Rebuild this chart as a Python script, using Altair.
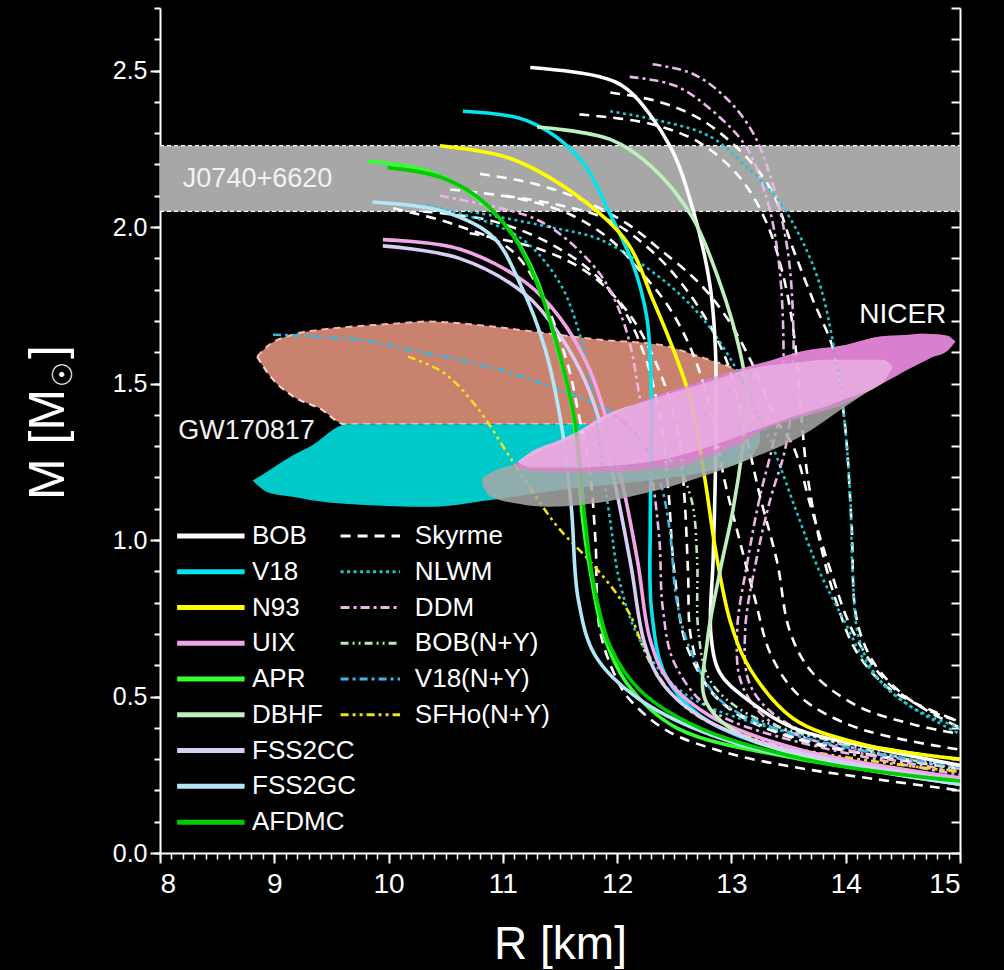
import altair as alt
import pandas as pd

# ---------------- axis ranges and ticks ----------------
R_DOMAIN = [8, 15]
M_DOMAIN = [0, 2.7]
X_TICKS = [8, 9, 10, 11, 12, 13, 14, 15]
X_MINOR = [round(8 + 0.1 * i, 1) for i in range(71)]
Y_TICKS = [0.0, 0.5, 1.0, 1.5, 2.0, 2.5]
Y_MINOR = [round(0.1 * i, 1) for i in range(28)]

# ---------------- nucleonic EoS (solid) ----------------
BOB_R = [11.24, 11.85, 12.09, 12.46, 12.66, 12.81, 12.86, 12.86, 12.84, 12.82, 12.90, 13.14, 13.54, 14.12, 15.0]
BOB_M = [2.51, 2.48, 2.44, 2.26, 2.06, 1.82, 1.61, 1.23, 0.94, 0.70, 0.575, 0.49, 0.40, 0.345, 0.28]

V18_R = [10.65, 11.21, 11.67, 11.94, 12.14, 12.26, 12.30, 12.29, 12.30, 12.42, 12.72, 13.42, 15.0]
V18_M = [2.37, 2.34, 2.22, 2.04, 1.88, 1.71, 1.45, 1.06, 0.78, 0.57, 0.44, 0.33, 0.22]

N93_R = [10.45, 11.06, 11.65, 12.09, 12.31, 12.49, 12.64, 12.77, 12.86, 12.99, 13.16, 13.54, 14.12, 15.0]
N93_M = [2.26, 2.22, 2.10, 1.95, 1.77, 1.61, 1.45, 1.19, 0.97, 0.74, 0.59, 0.43, 0.35, 0.30]

UIX_R = [9.95, 10.62, 11.21, 11.50, 11.74, 11.87, 12.04, 12.18, 12.29, 12.45, 12.85, 13.60, 15.0]
UIX_M = [1.96, 1.93, 1.82, 1.71, 1.56, 1.43, 1.19, 0.93, 0.68, 0.55, 0.43, 0.33, 0.24]

APR_R = [9.82, 10.34, 10.71, 11.06, 11.30, 11.47, 11.61, 11.70, 11.76, 11.88, 12.09, 12.52, 13.60, 15.0]
APR_M = [2.21, 2.18, 2.11, 1.99, 1.83, 1.62, 1.41, 1.06, 0.91, 0.70, 0.54, 0.40, 0.30, 0.23]

DBHF_R = [11.30, 11.94, 12.31, 12.66, 12.90, 13.07, 13.14, 13.10, 13.01, 12.90, 12.79, 12.77, 13.07, 14.04, 15.0]
DBHF_M = [2.32, 2.28, 2.19, 2.03, 1.82, 1.61, 1.45, 1.30, 1.09, 0.90, 0.68, 0.49, 0.38, 0.28, 0.22]

FSS2CC_R = [9.95, 10.62, 11.18, 11.45, 11.68, 11.82, 11.98, 12.12, 12.24, 12.40, 12.80, 13.60, 15.0]
FSS2CC_M = [1.94, 1.90, 1.79, 1.68, 1.54, 1.41, 1.18, 0.92, 0.67, 0.54, 0.42, 0.32, 0.23]

FSS2GC_R = [9.86, 10.48, 10.91, 11.15, 11.37, 11.52, 11.60, 11.66, 11.81, 12.20, 12.96, 14.12, 15.0]
FSS2GC_M = [2.08, 2.05, 1.97, 1.82, 1.61, 1.35, 1.10, 0.81, 0.63, 0.49, 0.36, 0.27, 0.22]

AFDMC_R = [9.99, 10.45, 10.80, 11.11, 11.32, 11.50, 11.63, 11.72, 11.79, 11.94, 12.20, 12.72, 13.77, 15.0]
AFDMC_M = [2.19, 2.16, 2.09, 1.96, 1.80, 1.59, 1.38, 1.06, 0.87, 0.66, 0.52, 0.40, 0.29, 0.23]

# ---------------- phenomenological / hyperonic EoS (broken lines) ----------------
SKY1_R = [11.94, 12.37, 12.75, 13.14, 13.36, 13.54, 13.71, 13.89, 13.99, 14.05, 14.10, 14.26, 14.56, 15.0]
SKY1_M = [2.43, 2.40, 2.34, 2.22, 2.11, 1.93, 1.77, 1.61, 1.38, 1.06, 0.74, 0.60, 0.49, 0.40]
SKY2_R = [10.80, 11.26, 11.67, 12.09, 12.37, 12.72, 12.96, 13.16, 13.40, 13.54, 13.70, 13.87, 14.06, 14.35, 14.70, 15.0]
SKY2_M = [2.17, 2.14, 2.09, 2.01, 1.93, 1.82, 1.71, 1.58, 1.38, 1.30, 1.10, 0.90, 0.71, 0.55, 0.46, 0.42]
SKY3_R = [10.54, 11.15, 11.59, 11.94, 12.20, 12.46, 12.68, 12.84, 12.94, 13.05, 13.20, 13.35, 13.60, 14.10, 15.0]
SKY3_M = [2.12, 2.09, 2.04, 1.96, 1.86, 1.74, 1.58, 1.38, 1.19, 1.03, 0.82, 0.63, 0.50, 0.40, 0.33]
SKY4_R = [10.04, 10.56, 11.06, 11.32, 11.56, 11.67, 11.76, 11.81, 11.85, 12.00, 12.11, 12.44, 12.96, 13.54, 14.12, 15.0]
SKY4_M = [2.06, 2.01, 1.93, 1.80, 1.57, 1.39, 1.22, 1.00, 0.71, 0.553, 0.49, 0.39, 0.32, 0.275, 0.243, 0.20]
SKY5_R = [11.02, 11.50, 11.94, 12.37, 12.72, 12.95, 13.10, 13.25, 13.40, 13.51, 13.70, 14.10, 14.60, 15.0]
SKY5_M = [2.10, 2.07, 2.02, 1.90, 1.74, 1.58, 1.38, 1.14, 0.93, 0.71, 0.58, 0.47, 0.41, 0.38]
SKY6_R = [10.71, 11.32, 11.76, 12.11, 12.37, 12.53, 12.59, 12.62, 12.65, 12.81, 13.25, 14.12, 15.0]
SKY6_M = [1.98, 1.93, 1.85, 1.72, 1.54, 1.35, 1.13, 0.90, 0.68, 0.52, 0.41, 0.32, 0.27]
SKY7_R = [10.30, 10.90, 11.40, 11.80, 12.05, 12.25, 12.38, 12.45, 12.50, 12.62, 12.95, 13.70, 15.0]
SKY7_M = [2.05, 2.02, 1.95, 1.85, 1.74, 1.58, 1.38, 1.15, 0.90, 0.65, 0.47, 0.35, 0.28]
SKY8_R = [11.67, 12.29, 12.72, 13.07, 13.30, 13.45, 13.55, 13.60, 13.66, 13.77, 13.92, 14.10, 14.40, 15.0]
SKY8_M = [2.36, 2.33, 2.27, 2.16, 2.02, 1.85, 1.65, 1.45, 1.22, 1.00, 0.80, 0.64, 0.52, 0.42]

NLWM1_R = [11.94, 12.37, 12.81, 13.14, 13.40, 13.60, 13.77, 13.89, 13.98, 14.04, 14.06, 14.12, 14.30, 14.56, 15.0]
NLWM1_M = [2.37, 2.34, 2.29, 2.19, 2.09, 1.97, 1.82, 1.63, 1.41, 1.14, 0.90, 0.68, 0.55, 0.47, 0.38]
NLWM2_R = [10.71, 11.41, 11.85, 12.37, 12.72, 12.99, 13.21, 13.36, 13.56, 13.77, 13.99, 14.21, 14.56, 15.0]
NLWM2_M = [2.05, 2.00, 1.96, 1.84, 1.72, 1.58, 1.42, 1.30, 1.10, 0.90, 0.74, 0.59, 0.47, 0.40]
NLWM3_R = [10.34, 10.91, 11.21, 11.50, 11.67, 11.78, 11.85, 11.94, 12.02, 12.20, 12.55, 13.25, 15.0]
NLWM3_M = [2.07, 2.01, 1.95, 1.82, 1.66, 1.48, 1.29, 1.06, 0.87, 0.68, 0.52, 0.41, 0.30]

DDM1_R = [12.31, 12.66, 12.96, 13.19, 13.36, 13.49, 13.54, 13.53, 13.47, 13.34, 13.22, 13.12, 13.16, 13.42, 14.12, 15.0]
DDM1_M = [2.52, 2.49, 2.41, 2.30, 2.14, 1.93, 1.70, 1.45, 1.29, 1.13, 0.94, 0.71, 0.54, 0.43, 0.33, 0.27]
DDM2_R = [12.11, 12.52, 12.90, 13.14, 13.31, 13.40, 13.45, 13.44, 13.36, 13.25, 13.14, 13.05, 13.09, 13.34, 14.12, 15.0]
DDM2_M = [2.48, 2.45, 2.35, 2.25, 2.09, 1.93, 1.71, 1.45, 1.30, 1.14, 0.93, 0.71, 0.54, 0.42, 0.32, 0.26]
DDM3_R = [10.45, 11.26, 11.56, 11.85, 12.00, 12.11, 12.20, 12.30, 12.37, 12.40, 12.51, 12.90, 15.0]
DDM3_M = [2.10, 2.03, 1.96, 1.85, 1.75, 1.63, 1.45, 1.22, 1.00, 0.78, 0.60, 0.44, 0.25]

BOBNY_R = [11.85, 12.20, 12.51, 12.65, 12.70, 12.71, 12.81, 13.16, 14.12, 15.0]
BOBNY_M = [1.352, 1.304, 1.240, 1.129, 0.937, 0.713, 0.553, 0.441, 0.336, 0.265]

V18NY_R = [8.99, 9.75, 10.19, 10.62, 11.06, 11.50, 11.91, 12.20, 12.37, 12.46, 12.52, 12.64, 12.90, 13.42, 14.12, 15.0]
V18NY_M = [1.656, 1.640, 1.608, 1.576, 1.535, 1.480, 1.416, 1.320, 1.192, 1.033, 0.809, 0.649, 0.489, 0.393, 0.329, 0.275]

SFHONY_R = [10.17, 10.48, 10.77, 11.06, 11.35, 11.50, 11.79, 12.09, 12.31, 12.66, 13.42, 15.0]
SFHONY_M = [1.586, 1.535, 1.426, 1.266, 1.106, 1.033, 0.921, 0.777, 0.595, 0.448, 0.345, 0.259]

# ---------------- observational constraints ----------------
J0740_M = [2.05, 2.26]

GW_HI_R = [8.85, 8.95, 9.16, 9.40, 9.62, 10.00, 10.34, 10.91, 11.35, 11.85, 12.37, 12.72, 13.07, 13.30, 13.36]
GW_HI_TOP = [1.586, 1.622, 1.656, 1.672, 1.680, 1.690, 1.698, 1.682, 1.662, 1.640, 1.624, 1.586, 1.538, 1.480, 1.420]
GW_HI_BOT = [1.586, 1.530, 1.460, 1.420, 1.370, 1.370, 1.370, 1.370, 1.370, 1.370, 1.370, 1.370, 1.370, 1.370, 1.370]

GW_LO_R = [8.81, 8.96, 9.16, 9.31, 9.64, 9.75, 10.34, 10.91, 11.50, 12.26, 12.84, 13.16, 13.25]
GW_LO_TOP = [1.19, 1.224, 1.27, 1.298, 1.37, 1.37, 1.37, 1.37, 1.37, 1.37, 1.37, 1.37, 1.37]
GW_LO_BOT = [1.19, 1.15, 1.138, 1.128, 1.115, 1.113, 1.106, 1.129, 1.16, 1.19, 1.224, 1.263, 1.31]

NICER_GRAY_R = [10.82, 10.89, 11.15, 11.39, 11.85, 12.26, 12.72, 13.14, 13.60, 14.01, 14.30]
NICER_GRAY_TOP = [1.199, 1.215, 1.24, 1.235, 1.235, 1.24, 1.27, 1.335, 1.405, 1.45, 1.505]
NICER_GRAY_BOT = [1.175, 1.14, 1.115, 1.106, 1.12, 1.151, 1.20, 1.256, 1.33, 1.43, 1.50]

NICER_OUT_R = [11.09, 11.24, 11.32, 11.67, 12.02, 12.37, 12.55, 12.72, 13.14, 13.28, 13.60, 14.01, 14.30, 14.59, 14.65, 14.74, 14.89, 14.96]
NICER_OUT_TOP = [1.24, 1.265, 1.282, 1.336, 1.41, 1.464, 1.486, 1.506, 1.554, 1.567, 1.602, 1.624, 1.650, 1.657, 1.659, 1.658, 1.653, 1.634]
NICER_OUT_BOT = [1.24, 1.221, 1.219, 1.215, 1.218, 1.228, 1.234, 1.256, 1.32, 1.352, 1.391, 1.439, 1.496, 1.554, 1.565, 1.582, 1.605, 1.634]

NICER_IN_R = [11.13, 11.24, 11.50, 11.67, 11.85, 12.29, 12.72, 13.25, 13.54, 13.84, 13.98, 14.27, 14.33, 14.41]
NICER_IN_TOP = [1.25, 1.28, 1.32, 1.35, 1.391, 1.448, 1.496, 1.554, 1.566, 1.576, 1.576, 1.576, 1.576, 1.554]
NICER_IN_BOT = [1.25, 1.231, 1.231, 1.231, 1.235, 1.25, 1.288, 1.357, 1.394, 1.428, 1.448, 1.490, 1.505, 1.554]

# ---------------- families: names, colours, dash patterns ----------------
SOLID_FAMILIES = ["BOB", "V18", "N93", "UIX", "APR", "DBHF", "FSS2CC", "FSS2GC", "AFDMC"]
BROKEN_FAMILIES = ["Skyrme", "NLWM", "DDM", "BOB(N+Y)", "V18(N+Y)", "SFHo(N+Y)"]
FAMILIES = SOLID_FAMILIES + BROKEN_FAMILIES
FAMILY_COLORS = ["#ffffff", "#00e6ef", "#ffff00", "#f2a6ea", "#33ff33", "#bdf0bd",
                 "#d9cdf5", "#b4e6f8", "#00cc00",
                 "#ffffff", "#1cc8d2", "#ebb6e8", "#bfe6bf", "#3ab8e6", "#ece21e"]
FAMILY_DASHES = [[1, 0]] * 9 + [[10, 7], [3, 3.5], [9, 4, 3, 4], [8, 4, 2, 4, 2, 4],
                                [8, 4, 3, 4], [8, 4, 3, 4, 3, 4]]

solid_curves = [
    ("BOB", BOB_R, BOB_M), ("V18", V18_R, V18_M), ("N93", N93_R, N93_M),
    ("UIX", UIX_R, UIX_M), ("APR", APR_R, APR_M), ("DBHF", DBHF_R, DBHF_M),
    ("FSS2CC", FSS2CC_R, FSS2CC_M), ("FSS2GC", FSS2GC_R, FSS2GC_M),
    ("AFDMC", AFDMC_R, AFDMC_M),
]
broken_curves = [
    ("Skyrme", SKY1_R, SKY1_M), ("Skyrme", SKY2_R, SKY2_M), ("Skyrme", SKY3_R, SKY3_M),
    ("Skyrme", SKY4_R, SKY4_M), ("Skyrme", SKY5_R, SKY5_M), ("Skyrme", SKY6_R, SKY6_M),
    ("Skyrme", SKY7_R, SKY7_M), ("Skyrme", SKY8_R, SKY8_M),
    ("NLWM", NLWM1_R, NLWM1_M), ("NLWM", NLWM2_R, NLWM2_M), ("NLWM", NLWM3_R, NLWM3_M),
    ("DDM", DDM1_R, DDM1_M), ("DDM", DDM2_R, DDM2_M), ("DDM", DDM3_R, DDM3_M),
    ("BOB(N+Y)", BOBNY_R, BOBNY_M), ("V18(N+Y)", V18NY_R, V18NY_M),
    ("SFHo(N+Y)", SFHONY_R, SFHONY_M),
]


def curve_table(curves):
    rows = []
    for cid, (fam, rs, ms) in enumerate(curves):
        for k, (r, m) in enumerate(zip(rs, ms)):
            rows.append({"family": fam, "curve": f"{fam}-{cid}", "R": r, "M": m, "k": k})
    return pd.DataFrame(rows)


solid_df = curve_table(solid_curves)
broken_df = curve_table(broken_curves)

FONT = "Liberation Sans"
x_scale = alt.Scale(domain=R_DOMAIN, nice=False, zero=False)
y_scale = alt.Scale(domain=M_DOMAIN, nice=False, zero=False)
color_scale = alt.Scale(domain=FAMILIES, range=FAMILY_COLORS)
dash_scale = alt.Scale(domain=FAMILIES, range=FAMILY_DASHES)


def X(field):
    return alt.X(field, type="quantitative", scale=x_scale, axis=None)


def Y(field):
    return alt.Y(field, type="quantitative", scale=y_scale, axis=None)


def region(df, color, opacity=1.0):
    return alt.Chart(df).mark_area(color=color, opacity=opacity, interpolate="monotone").encode(
        x=X("R"), y=Y("top"), y2="bot")


# J0740+6620 mass band
band_df = pd.DataFrame({"r0": [R_DOMAIN[0]], "r1": [R_DOMAIN[1]], "m0": [J0740_M[0]], "m1": [J0740_M[1]]})
band = alt.Chart(band_df).mark_rect(color="#a7a7a7").encode(
    x=X("r0"), x2="r1", y=Y("m0"), y2="m1")
band_edges_df = pd.DataFrame({"r0": [R_DOMAIN[0]] * 2, "r1": [R_DOMAIN[1]] * 2, "m": J0740_M})
band_edges = alt.Chart(band_edges_df).mark_rule(
    color="#ffffff", strokeWidth=1.3, strokeDash=[4, 3]).encode(x=X("r0"), x2="r1", y=Y("m"))

# GW170817 regions
gw_hi_df = pd.DataFrame({"R": GW_HI_R, "top": GW_HI_TOP, "bot": GW_HI_BOT})
gw_lo_df = pd.DataFrame({"R": GW_LO_R, "top": GW_LO_TOP, "bot": GW_LO_BOT})
gw_hi = region(gw_hi_df, "#c8826e")
gw_hi_top = alt.Chart(gw_hi_df).mark_line(
    color="#f6b8a8", strokeWidth=2, strokeDash=[7, 5], interpolate="monotone").encode(x=X("R"), y=Y("top"))
gw_hi_bot = alt.Chart(gw_hi_df).mark_line(
    color="#f8d2c8", strokeWidth=2, strokeDash=[7, 5], interpolate="monotone").encode(x=X("R"), y=Y("bot"))
gw_lo = region(gw_lo_df, "#00c9c9")

# NICER regions: opaque underlay, then a translucent veil over the curves
ng_df = pd.DataFrame({"R": NICER_GRAY_R, "top": NICER_GRAY_TOP, "bot": NICER_GRAY_BOT})
no_df = pd.DataFrame({"R": NICER_OUT_R, "top": NICER_OUT_TOP, "bot": NICER_OUT_BOT})
ni_df = pd.DataFrame({"R": NICER_IN_R, "top": NICER_IN_TOP, "bot": NICER_IN_BOT})
NICER_OUT_COLOR, NICER_IN_COLOR = "#d97fcd", "#eab2e3"
nicer_out_base = region(no_df, NICER_OUT_COLOR)
nicer_in_base = region(ni_df, NICER_IN_COLOR)
nicer_gray = region(ng_df, "#a8a8a8", 0.85)
nicer_out_veil = region(no_df, NICER_OUT_COLOR, 0.62)
nicer_in_veil = region(ni_df, NICER_IN_COLOR, 0.62)

# mass-radius curves
broken_lines = alt.Chart(broken_df).mark_line(strokeWidth=2.6, interpolate="catmull-rom", clip=True).encode(
    x=X("R"), y=Y("M"),
    color=alt.Color("family:N", scale=color_scale, legend=None),
    strokeDash=alt.StrokeDash("family:N", scale=dash_scale, legend=None),
    detail="curve:N", order="k:Q")
solid_lines = alt.Chart(solid_df).mark_line(strokeWidth=3.6, interpolate="catmull-rom", clip=True).encode(
    x=X("R"), y=Y("M"),
    color=alt.Color("family:N", scale=color_scale, legend=None),
    detail="curve:N", order="k:Q")

# region labels
labels_left = pd.DataFrame({"R": [8.2, 8.16], "M": [2.155, 1.35], "text": ["J0740+6620", "GW170817"]})
labels_right = pd.DataFrame({"R": [14.88], "M": [1.72], "text": ["NICER"]})
label_left = alt.Chart(labels_left).mark_text(
    align="left", baseline="middle", font=FONT, fontSize=27, color="#f2f2f2").encode(
    x=X("R"), y=Y("M"), text="text:N")
label_right = alt.Chart(labels_right).mark_text(
    align="right", baseline="middle", font=FONT, fontSize=28, color="#ffffff").encode(
    x=X("R"), y=Y("M"), text="text:N")

# two-column legend placed inside the plot
LEG_TOP, LEG_STEP = 1.013, 0.1143
leg_rows = []
for i, fam in enumerate(SOLID_FAMILIES):
    leg_rows.append({"family": fam, "x0": 8.15, "x1": 8.74, "tx": 8.805, "y": LEG_TOP - LEG_STEP * i, "solid": True})
for i, fam in enumerate(BROKEN_FAMILIES):
    leg_rows.append({"family": fam, "x0": 9.58, "x1": 10.10, "tx": 10.23, "y": LEG_TOP - LEG_STEP * i, "solid": False})
leg_df = pd.DataFrame(leg_rows)
leg_solid = alt.Chart(leg_df[leg_df.solid]).mark_rule(strokeWidth=5).encode(
    x=X("x0"), x2="x1", y=Y("y"),
    color=alt.Color("family:N", scale=color_scale, legend=None))
leg_broken = alt.Chart(leg_df[~leg_df.solid]).mark_rule(strokeWidth=3).encode(
    x=X("x0"), x2="x1", y=Y("y"),
    color=alt.Color("family:N", scale=color_scale, legend=None),
    strokeDash=alt.StrokeDash("family:N", scale=dash_scale, legend=None))
leg_text = alt.Chart(leg_df).mark_text(
    align="left", baseline="middle", font=FONT, fontSize=26, color="#ffffff").encode(
    x=X("tx"), y=Y("y"), text="family:N")

# y-axis title with a subscript solar symbol, written bottom-to-top
anchor = pd.DataFrame({"R": [8.0], "M": [0.0]})
title_main = alt.Chart(anchor).mark_text(
    text="M [M", angle=270, align="left", baseline="alphabetic", font=FONT, fontSize=50,
    color="#ffffff").encode(x=alt.value(-96), y=alt.value(492))
title_sub = alt.Chart(anchor).mark_text(
    text="☉", angle=270, align="left", baseline="alphabetic", font="DejaVu Sans", fontSize=28,
    color="#ffffff").encode(x=alt.value(-88), y=alt.value(379))
title_end = alt.Chart(anchor).mark_text(
    text="]", angle=270, align="left", baseline="alphabetic", font=FONT, fontSize=50,
    color="#ffffff").encode(x=alt.value(-96), y=alt.value(351))


# axes: each one drawn by an invisible anchor layer
def axis_layer(x_axis=None, y_axis=None):
    return alt.Chart(anchor).mark_point(opacity=0).encode(
        x=alt.X("R:Q", scale=x_scale, axis=x_axis),
        y=alt.Y("M:Q", scale=y_scale, axis=y_axis))


y_left = axis_layer(y_axis=alt.Axis(
    orient="left", values=Y_TICKS, format=".1f", tickSize=10, tickWidth=2, domainWidth=2,
    labelFont=FONT, labelFontSize=25, labelPadding=3, labelColor="#ffffff", title=None))
y_left_minor = axis_layer(y_axis=alt.Axis(
    orient="left", values=Y_MINOR, tickSize=6, tickWidth=2, domain=False, labels=False, title=None))
y_right = axis_layer(y_axis=alt.Axis(
    orient="left", offset=-800, values=Y_MINOR, tickSize=9, tickWidth=2, domainWidth=2,
    labels=False, title=None))
x_bottom = axis_layer(x_axis=alt.Axis(
    orient="bottom", values=X_TICKS, format="d", tickSize=10, tickWidth=2, domainWidth=2,
    labelFont=FONT, labelFontSize=28, labelPadding=7, labelColor="#ffffff",
    title="R [km]", titleFont=FONT, titleFontSize=46, titleFontWeight="normal",
    titleColor="#ffffff", titleX=400, titleY=105, titleAlign="center",
    titleBaseline="alphabetic"))
x_bottom_minor = axis_layer(x_axis=alt.Axis(
    orient="bottom", values=X_MINOR, tickSize=6, tickWidth=1.5, domain=False, labels=False, title=None))

chart = alt.layer(
    band, band_edges, gw_hi, gw_hi_top, gw_hi_bot, gw_lo,
    nicer_out_base, nicer_in_base,
    broken_lines, solid_lines,
    nicer_gray, nicer_out_veil, nicer_in_veil,
    label_left, label_right,
    leg_solid, leg_broken, leg_text,
    title_main, title_sub, title_end,
    y_left, y_left_minor, y_right, x_bottom, x_bottom_minor,
).resolve_axis(
    x="independent", y="independent"
).properties(
    width=800, height=845,
    padding={"left": 160, "top": 8, "right": 44, "bottom": 117},
    autosize=alt.AutoSizeParams(type="none"),
    background="#000000",
).configure_view(
    stroke=None
).configure_axis(
    grid=False, domainColor="#ffffff", tickColor="#ffffff", labelColor="#ffffff"
)

chart.save("out.html", embed_options={"renderer": "svg", "actions": False})
